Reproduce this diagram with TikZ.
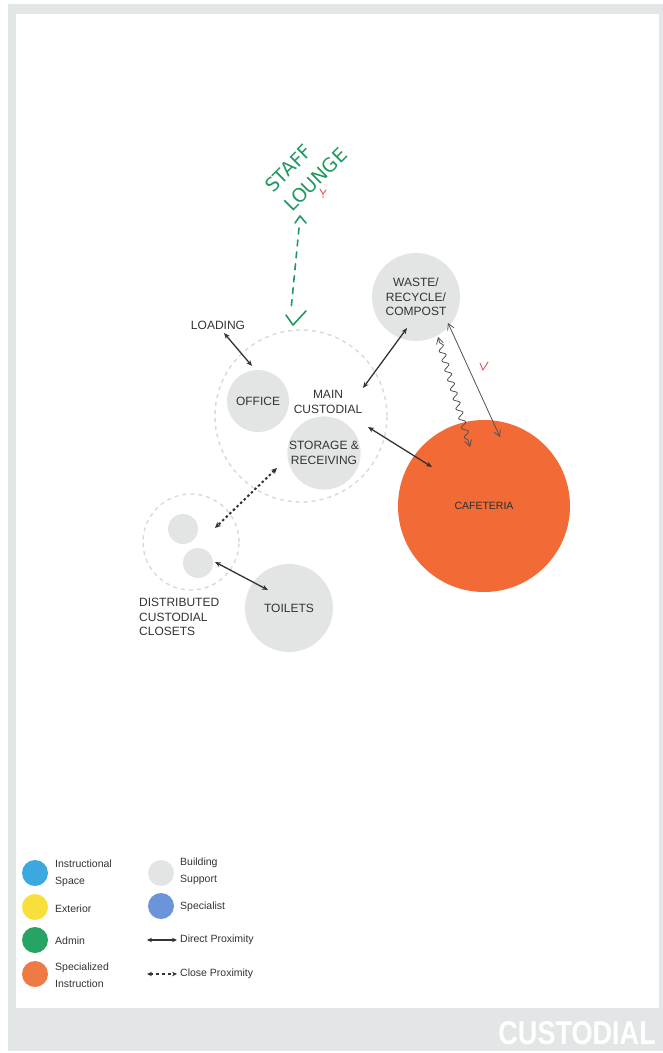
\documentclass[tikz,border=0pt]{standalone}
\usepackage{fontspec}
\setmainfont{Liberation Sans}
\newfontfamily\handfont{DejaVu Sans}
\usetikzlibrary{arrows.meta,decorations.pathmorphing}
\definecolor{framegray}{HTML}{E2E6E6}
\definecolor{bubble}{HTML}{E3E5E5}
\definecolor{dashc}{HTML}{D8DADA}
\definecolor{caf}{HTML}{F26A36}
\definecolor{ink}{HTML}{333333}
\definecolor{pen}{HTML}{1F9A5F}
\definecolor{redpen}{HTML}{E8505B}
\definecolor{lgblue}{HTML}{3BA9DF}
\definecolor{lgyellow}{HTML}{F8DF3B}
\definecolor{lggreen}{HTML}{27A464}
\definecolor{lgorange}{HTML}{EE7A45}
\definecolor{lgspec}{HTML}{6A95DA}
\begin{document}
\begin{tikzpicture}[x=1pt,y=-1pt,
  bub/.style={circle,fill=bubble,draw=none,inner sep=0pt,text=ink,align=center,
    font=\fontsize{12}{14.5}\selectfont},
  dashcirc/.style={circle,draw=dashc,dashed,dash pattern=on 4pt off 4pt,line width=1.4pt,inner sep=0pt},
  lbl/.style={text=ink,align=center,font=\fontsize{12}{14.5}\selectfont,inner sep=0pt},
  dir/.style={draw=ink,line width=1.3pt,{Stealth[length=6pt,width=5pt]}-{Stealth[length=6pt,width=5pt]}},
  close/.style={draw=ink,line width=2pt,dash pattern=on 2.5pt off 2.5pt,{Stealth[length=6pt,width=5.5pt]}-{Stealth[length=6pt,width=5.5pt]}},
  hand/.style={draw=ink!85,line width=0.8pt,line cap=round,line join=round},
  greenpen/.style={draw=pen,line width=1.6pt,line cap=round,line join=round},
  lgdot/.style={circle,inner sep=0pt,minimum size=26pt,draw=none},
  lgtxt/.style={anchor=west,align=left,inner sep=0pt,text=ink,font=\fontsize{10.5}{17}\selectfont}
]
\useasboundingbox (0,0) rectangle (663,1053);
\fill[white] (0,0) rectangle (663,1053);
\fill[framegray] (8,4) rectangle (663,1051);
\fill[white] (16,14) rectangle (659,1008);
\node[anchor=east,text=white,inner sep=0pt] (title) at (656,1033)
  {\scalebox{0.82}[1]{\fontsize{33}{33}\selectfont\bfseries CUSTODIAL}};

% main custodial group
\node[dashcirc,minimum size=172pt] (main) at (301,416) {};
\node[bub,minimum size=62pt] (office) at (258,401) {OFFICE};
\node[bub,minimum size=70pt] (storage) at (324,453) {STORAGE \&\\RECEIVING};
\node[lbl] (maintxt) at (328,402) {MAIN\\CUSTODIAL};
\node[lbl] (loading) at (218,325) {LOADING};

% waste and cafeteria
\node[bub,minimum size=88pt] (waste) at (416,297) {WASTE/\\RECYCLE/\\COMPOST};
\node[circle,fill=caf,inner sep=0pt,minimum size=172pt,text=ink!90!black,
  font=\fontsize{10.5}{12}\selectfont] (caf) at (484,506) {CAFETERIA};

% closets and toilets
\node[dashcirc,minimum size=96pt] (closets) at (191,542) {};
\node[bub,minimum size=30pt] (c1) at (183,529) {};
\node[bub,minimum size=30pt] (c2) at (198,563) {};
\node[lbl,align=left,anchor=north west] (dist) at (139,598) {DISTRIBUTED\\CUSTODIAL\\CLOSETS};
\node[bub,minimum size=88pt] (toilets) at (289,608) {TOILETS};

% connectors
\draw[dir] ([shift={(6,8)}]loading.center) -- ([shift={(-6,-35)}]office.center);
\draw[dir] ([shift={(-9,31)}]waste.center) -- ([shift={(35,-14)}]maintxt.center);
\draw[dir] ([shift={(40,25)}]maintxt.center) -- ([shift={(-52,-39)}]caf.center);
\draw[close] ([shift={(-47,15)}]storage.center) -- ([shift={(32,-1)}]c1.center);
\draw[dir] ([shift={(17,-1)}]c2.center) -- ([shift={(-21,-18)}]toilets.center);

% handwritten waste <-> cafeteria
\draw[hand,decorate,decoration={snake,segment length=10pt,amplitude=3pt,pre length=6pt,post length=6pt},
  {Straight Barb[length=6pt,width=7pt]}-{Straight Barb[length=6pt,width=7pt]}]
  ([shift={(22,40)}]waste.center) -- ([shift={(-14,-59)}]caf.center);
\draw[hand,{Straight Barb[length=6pt,width=7pt]}-{Straight Barb[length=6pt,width=7pt]}]
  ([shift={(32,26)}]waste.center) -- ([shift={(16,-69)}]caf.center);
\draw[draw=redpen,line width=0.9pt,line cap=round] ([shift={(-4,-4)}]caf.center) ++(0,-139) -- ++(3,7) -- ++(5,-8);

% staff lounge (handwritten)
\node[text=pen,inner sep=0pt,rotate=45,align=left,
  font=\handfont\fontsize{19}{27}\selectfont] (lounge) at (306,170) {STAFF\\LOUNGE};
\draw[draw=redpen,line width=0.9pt,line cap=round] ([shift={(14,19)}]lounge.center) -- ++(3,5) -- ++(3,-4)
  ([shift={(17,24)}]lounge.center) -- ++(0,4);
\draw[greenpen,dash pattern=on 6pt off 6pt] ([shift={(-7,58)}]lounge.center) -- ([shift={(-15,140)}]lounge.center);
\draw[greenpen] ([shift={(-11,53)}]lounge.center) -- ++(5,-7) -- ++(6,7);
\draw[greenpen] ([shift={(-20,145)}]lounge.center) -- ++(7,10) -- ++(13,-14);

% legend
\node[lgdot,fill=lgblue] (l1) at (35,873) {};
\node[lgdot,fill=lgyellow] (l2) at (35,907) {};
\node[lgdot,fill=lggreen] (l3) at (35,940) {};
\node[lgdot,fill=lgorange] (l4) at (35,974) {};
\node[lgtxt] (t1) at (55,873) {Instructional\\Space};
\node[lgtxt] (t2) at (55,909) {Exterior};
\node[lgtxt] (t3) at (55,941) {Admin};
\node[lgtxt] (t4) at (55,975) {Specialized\\Instruction};
\node[lgdot,fill=bubble] (l5) at (161,873) {};
\node[lgdot,fill=lgspec] (l6) at (161,906) {};
\node[lgtxt] (t5) at (180,871) {Building\\Support};
\node[lgtxt] (t6) at (180,907) {Specialist};
\coordinate (d1) at (147,940);
\node[lgtxt] (t7) at (180,940) {Direct Proximity};
\draw[draw=ink,line width=1.2pt,{Stealth[length=5pt,width=4.5pt]}-{Stealth[length=5pt,width=4.5pt]}] (d1) -- ([xshift=-3pt]t7.west);
\coordinate (d2) at (147,974);
\node[lgtxt] (t8) at (180,974) {Close Proximity};
\draw[draw=ink,line width=1.2pt,dash pattern=on 3pt off 3pt,{Stealth[length=5pt,width=4.5pt]}-{Stealth[length=5pt,width=4.5pt]}] (d2) -- ([xshift=-3pt]t8.west);
\end{tikzpicture}
\end{document}
